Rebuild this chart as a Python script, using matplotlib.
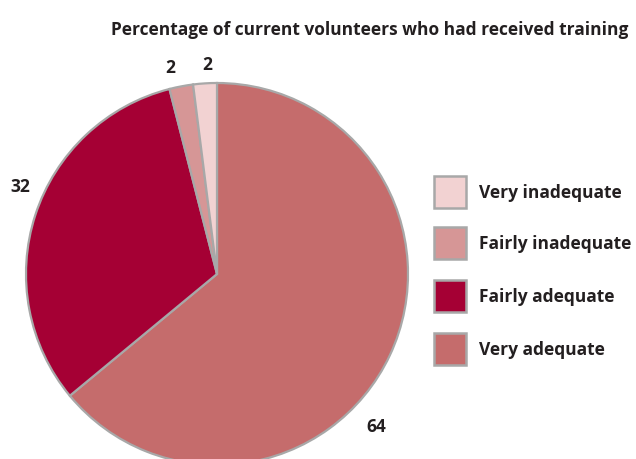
import matplotlib.pyplot as plt
from matplotlib.patches import Rectangle
import numpy as np

# survey answers, clockwise from 12 o'clock
categories = ['Very adequate', 'Fairly adequate', 'Fairly inadequate', 'Very inadequate']
values = [64, 32, 2, 2]
colors = ['#C56C6C', '#A50034', '#D69696', '#F2D2D2']
# label placement around the pie: (angle in degrees, radius as fraction of pie radius)
label_pos = [(-43.7, 1.15), (155.8, 1.13), (102.8, 1.11), (92.7, 1.10)]
legend_order = ['Very inadequate', 'Fairly inadequate', 'Fairly adequate', 'Very adequate']

edge = '#A8A8A8'
text_col = '#231F20'
plt.rcParams['font.family'] = ['Open Sans', 'DejaVu Sans']
plt.rcParams['font.weight'] = 'bold'

W, H = 636, 460
fig = plt.figure(figsize=(W / 100, H / 100), dpi=100)

# pie: centre (217, 275) px, radius 191 px
cx, cy, r = 217, 275, 191
ax = fig.add_axes([(cx - r) / W, (H - cy - r) / H, 2 * r / W, 2 * r / H])
wedges, _ = ax.pie(values, colors=colors, startangle=90, counterclock=False,
                   wedgeprops=dict(edgecolor=edge, linewidth=1.6))
ax.set_xlim(-1, 1)
ax.set_ylim(-1, 1)
ax.set_aspect('equal')
ax.axis('off')

for v, (ang, rad) in zip(values, label_pos):
    t = np.deg2rad(ang)
    ax.text(rad * np.cos(t), rad * np.sin(t), str(v), ha='center', va='center',
            fontsize=12.5, fontweight='bold', color=text_col, clip_on=False)

fig.text(370 / W, 1 - 30 / H, 'Percentage of current volunteers who had received training',
         ha='center', va='center', fontsize=12.5, fontweight='bold', color=text_col)

# legend drawn by hand
lax = fig.add_axes([0, 0, 1, 1])
lax.set_xlim(0, W)
lax.set_ylim(H, 0)
lax.axis('off')
ycent = [193, 244, 297, 350]
for name, yc in zip(legend_order, ycent):
    c = colors[categories.index(name)]
    lax.add_patch(Rectangle((434, yc - 16), 32, 32, facecolor=c, edgecolor=edge, linewidth=1.8))
    lax.text(479, yc, name, ha='left', va='center', fontsize=12.5, fontweight='bold', color=text_col)

fig.savefig('out.png', dpi=100)
